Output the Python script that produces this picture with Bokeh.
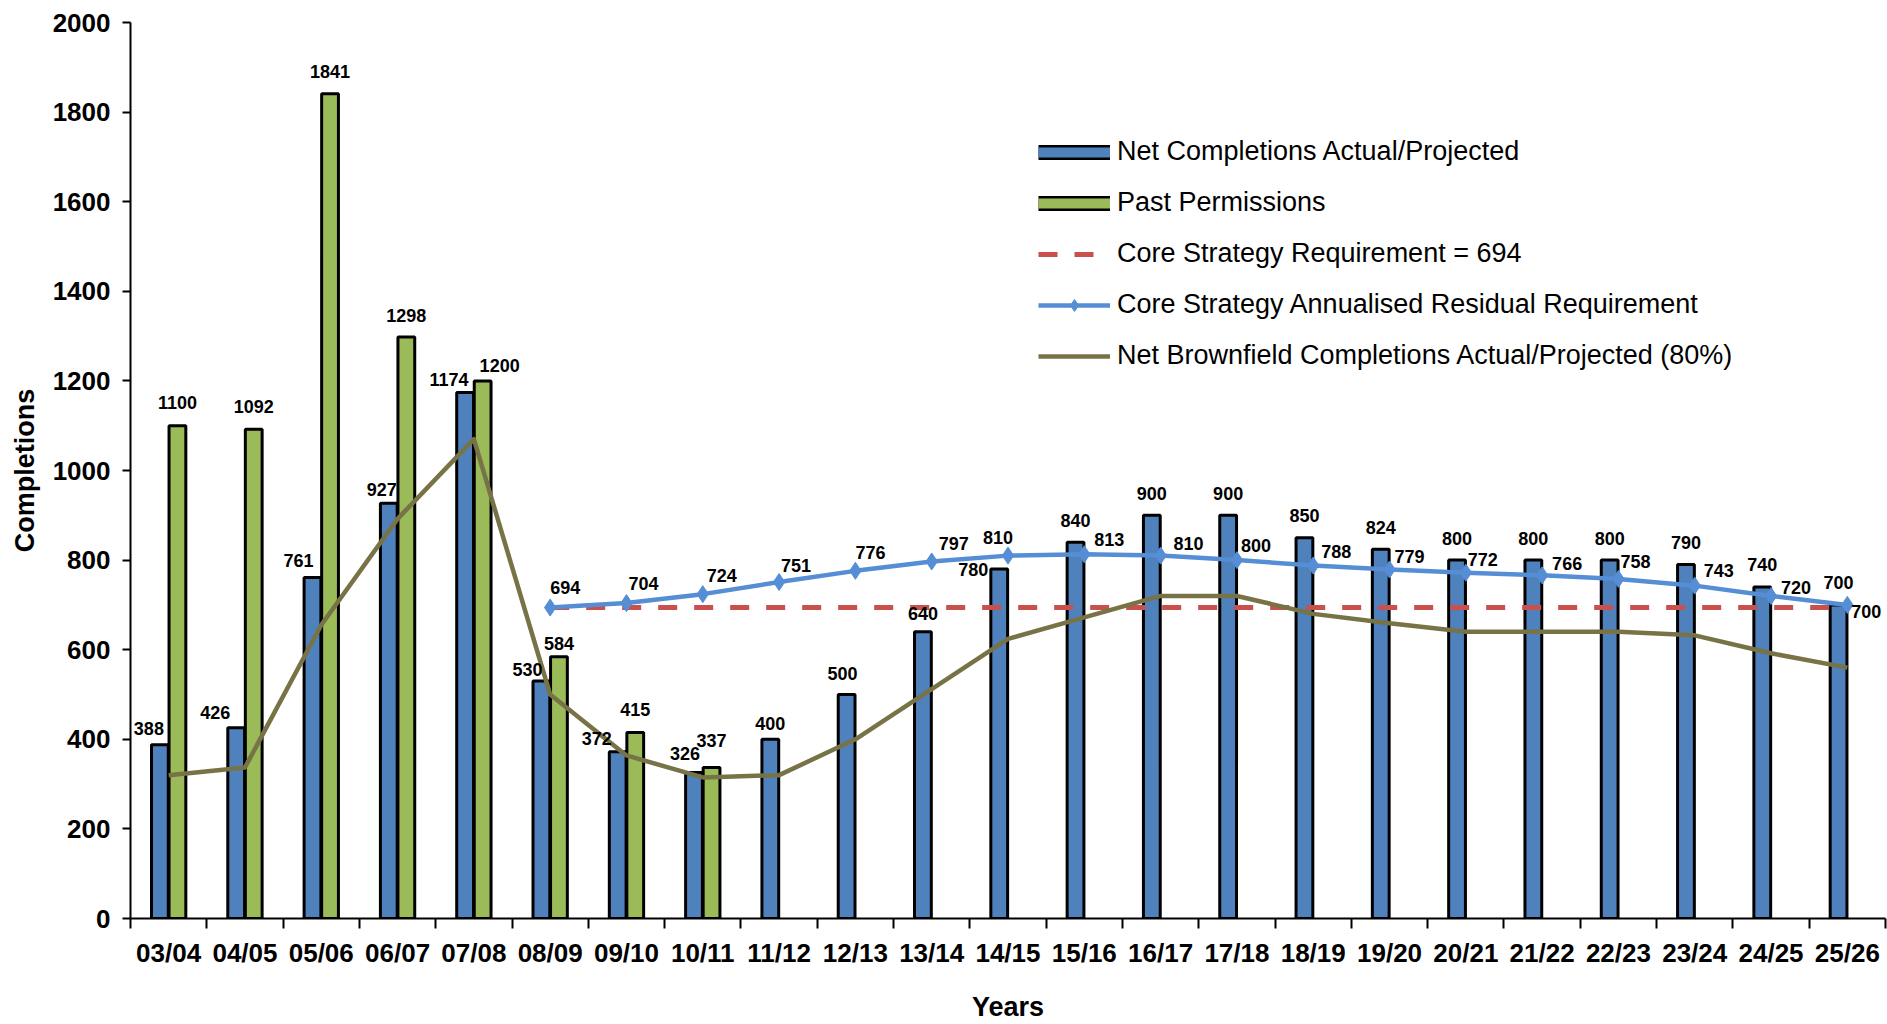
from bokeh.core.properties import value
from bokeh.embed import file_html
from bokeh.models import ColumnDataSource, FixedTicker, Legend, LegendItem, Range1d
from bokeh.plotting import figure
from bokeh.resources import INLINE

# ---------------------------------------------------------------- data
years = ["03/04", "04/05", "05/06", "06/07", "07/08", "08/09", "09/10", "10/11",
         "11/12", "12/13", "13/14", "14/15", "15/16", "16/17", "17/18", "18/19",
         "19/20", "20/21", "21/22", "22/23", "23/24", "24/25", "25/26"]

net_completions = [388, 426, 761, 927, 1174, 530, 372, 326, 400, 500, 640, 780,
                   840, 900, 900, 850, 824, 800, 800, 800, 790, 740, 700]

permission_years = years[:8]
past_permissions = [1100, 1092, 1841, 1298, 1200, 584, 415, 337]

core_requirement = 694
requirement_years = years[5:]

residual_years = years[5:]
residual_requirement = [694, 704, 724, 751, 776, 797, 810, 813, 810, 800, 788,
                        779, 772, 766, 758, 743, 720, 700]

brownfield = [320, 337, 655, 892, 1070, 500, 364, 315, 320, 400, 512, 624,
              672, 720, 720, 680, 659, 640, 640, 640, 632, 592, 560]

y_ticks = [0, 200, 400, 600, 800, 1000, 1200, 1400, 1600, 1800, 2000]

# ------------------------------------------------------- label nudges (px)
net_label_dx = [-11, -21, -14, -7, -16, -14, -21, -9, 0, -4, 0, -26,
                0, 0, 0, 0, 0, 0, 0, 0, 0, 0, 0]
net_label_lift = [16, 15, 17, 14, 13, 12, 13, 19, 16, 21, 18, 0,
                  22, 22, 22, 22, 22, 22, 22, 22, 22, 22, 22]
perm_label_dx = [0, 0, 0, 0, 17, 0, 0, 0]
perm_label_lift = [23, 23, 22, 21, 15, 13, 23, 27]
resid_label_dx = [15, 17, 19, 17, 15, 22, -10, 25, 28, 19, 23, 20, 17, 25, 17, 24, 25, 19]
resid_label_dy = [-20, -20, -19, -17, -18, -18, -18, -15, -12, -15, -14, -13, -13,
                  -12, -17, -15, -8, 7]

# ------------------------------------------------------------- styling
BAR_BLUE = "#4F81BD"
BAR_GREEN = "#9BBB59"
REQ_RED = "#C9504D"
RESID_BLUE = "#558ED5"
BROWN = "#787346"
FONT = "Liberation Sans"
NAN = float("nan")

pos = {y: i + 0.5 for i, y in enumerate(years)}
bar_w = 0.22
bar_off = 0.115

p = figure(width=1887, height=1024,
           x_range=Range1d(0, len(years)), y_range=Range1d(0, 2000),
           output_backend="svg", toolbar_location=None,
           min_border_left=130, min_border_right=2,
           min_border_top=22, min_border_bottom=106)
p.background_fill_color = "white"
p.border_fill_color = "white"
p.outline_line_color = None
p.xgrid.visible = False
p.ygrid.visible = False

# bars
net_x = [pos[y] - bar_off for y in years]
perm_x = [pos[y] + bar_off for y in permission_years]
p.vbar(x=net_x, top=net_completions, bottom=0, width=bar_w,
       fill_color=BAR_BLUE, line_color="black", line_width=3)
p.vbar(x=perm_x, top=past_permissions, bottom=0, width=bar_w,
       fill_color=BAR_GREEN, line_color="black", line_width=3)

# lines
req_r = p.line([pos[y] for y in requirement_years],
               [core_requirement] * len(requirement_years),
               line_color=REQ_RED, line_width=5, line_dash="19 17")
brown_r = p.line([pos[y] for y in years], brownfield,
                 line_color=BROWN, line_width=4.5, line_join="round")
resid_x = [pos[y] for y in residual_years]
resid_line = p.line(resid_x, residual_requirement, line_color=RESID_BLUE,
                    line_width=4.5, line_join="round")
resid_pts = p.scatter(resid_x, residual_requirement, marker="diamond", size=17,
                      fill_color=RESID_BLUE, line_color=RESID_BLUE, line_width=1)

# value labels
label_kw = dict(text_align="center", text_baseline="middle",
                text_font=value(FONT), text_font_style="bold",
                text_font_size="18px", text_color="black")

p.text(source=ColumnDataSource(dict(
    x=net_x, y=net_completions, t=[str(v) for v in net_completions],
    dx=net_label_dx, dy=[-v for v in net_label_lift])),
    x="x", y="y", text="t", x_offset="dx", y_offset="dy", **label_kw)
p.text(source=ColumnDataSource(dict(
    x=perm_x, y=past_permissions, t=[str(v) for v in past_permissions],
    dx=perm_label_dx, dy=[-v for v in perm_label_lift])),
    x="x", y="y", text="t", x_offset="dx", y_offset="dy", **label_kw)
p.text(source=ColumnDataSource(dict(
    x=resid_x, y=residual_requirement, t=[str(v) for v in residual_requirement],
    dx=resid_label_dx, dy=resid_label_dy)),
    x="x", y="y", text="t", x_offset="dx", y_offset="dy", **label_kw)

# axes
xa = p.xaxis[0]
xa.ticker = FixedTicker(ticks=[pos[y] for y in years],
                        minor_ticks=list(range(len(years) + 1)))
xa.major_label_overrides = {pos[y]: y for y in years}
xa.major_tick_line_color = None
xa.major_tick_out = 0
xa.major_tick_in = 0
xa.minor_tick_line_color = "black"
xa.minor_tick_line_width = 2
xa.minor_tick_out = 10
xa.minor_tick_in = 0
xa.major_label_standoff = 9
xa.axis_label = "Years"
xa.axis_label_standoff = 21

ya = p.yaxis[0]
ya.ticker = FixedTicker(ticks=y_ticks)
ya.major_tick_out = 8
ya.major_tick_in = 0
ya.major_tick_line_width = 2
ya.minor_tick_line_color = None
ya.major_label_standoff = 12
ya.axis_label = "Completions"
ya.axis_label_standoff = 10

for ax in (xa, ya):
    ax.axis_line_color = "black"
    ax.axis_line_width = 2
    ax.major_label_text_font = FONT
    ax.major_label_text_font_style = "bold"
    ax.major_label_text_font_size = "26px"
    ax.major_label_text_color = "black"
    ax.axis_label_text_font = FONT
    ax.axis_label_text_font_style = "bold"
    ax.axis_label_text_font_size = "27px"
    ax.axis_label_text_color = "black"

# legend swatches for the bar series (outlined bar look)
net_edge = p.line([NAN], [NAN], line_color="black", line_width=15)
net_fill = p.line([NAN], [NAN], line_color=BAR_BLUE, line_width=10)
perm_edge = p.line([NAN], [NAN], line_color="black", line_width=15)
perm_fill = p.line([NAN], [NAN], line_color=BAR_GREEN, line_width=10)

legend = Legend(items=[
    LegendItem(label="Net Completions Actual/Projected", renderers=[net_edge, net_fill]),
    LegendItem(label="Past Permissions", renderers=[perm_edge, perm_fill]),
    LegendItem(label="Core Strategy Requirement = 694", renderers=[req_r]),
    LegendItem(label="Core Strategy Annualised Residual Requirement",
               renderers=[resid_line, resid_pts]),
    LegendItem(label="Net Brownfield Completions Actual/Projected (80%)", renderers=[brown_r]),
],
    location=(908, 547), orientation="vertical",
    glyph_width=72, glyph_height=30, label_height=30, label_standoff=7,
    spacing=20, padding=0, margin=0,
    border_line_color=None, background_fill_alpha=0,
    label_text_font=FONT, label_text_font_size="27px", label_text_color="black")
p.add_layout(legend)

open("out.html", "w").write(file_html(p, INLINE))
